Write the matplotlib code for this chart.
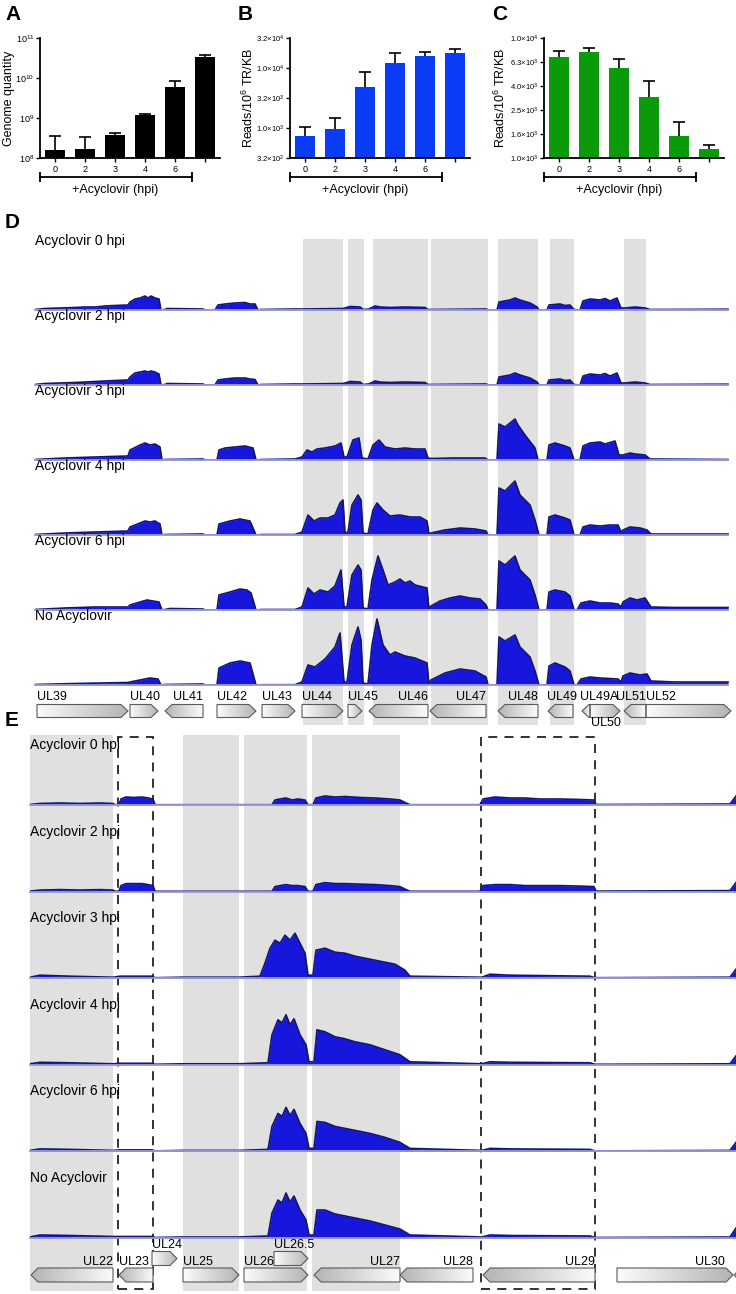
import numpy as np
import matplotlib.pyplot as plt
from matplotlib.patches import Polygon, Rectangle
from matplotlib.colors import LinearSegmentedColormap
import matplotlib.transforms as mtransforms

plt.rcParams['font.family'] = ['Liberation Sans', 'DejaVu Sans']
plt.rcParams['mathtext.fontset'] = 'custom'
plt.rcParams['mathtext.rm'] = 'Liberation Sans'
plt.rcParams['mathtext.it'] = 'Liberation Sans:italic'
plt.rcParams['mathtext.bf'] = 'Liberation Sans:bold'

# ---- panels A-C: bar data ----
hpi_labels = ['0', '2', '3', '4', '6', '']
genome_qty = [1.55e8, 1.7e8, 3.8e8, 1.2e9, 5.9e9, 3.3e10]
genome_err = [2.1e8, 1.6e8, 0.3e8, 0.05e9, 2.4e9, 0.5e10]
reads_b = [745, 975, 4820, 11960, 15640, 17800]
reads_b_err = [295, 495, 3650, 5840, 3060, 3200]
reads_c = [6990, 7600, 5590, 3200, 1516, 1196]
reads_c_err = [750, 650, 1140, 1150, 464, 80]

ticks_a = [1e8, 1e9, 1e10, 1e11]
ticklabels_a = ['$10^{8}$', '$10^{9}$', '$10^{10}$', '$10^{11}$']
ticks_b = [10**2.5, 1e3, 10**3.5, 1e4, 10**4.5]
ticklabels_b = [r'$3.2{\times}10^{2}$', r'$1.0{\times}10^{3}$', r'$3.2{\times}10^{3}$',
                r'$1.0{\times}10^{4}$', r'$3.2{\times}10^{4}$']
ticks_c = [1000, 1585, 2512, 3981, 6310, 10000]
ticklabels_c = [r'$1.0{\times}10^{3}$', r'$1.6{\times}10^{3}$', r'$2.5{\times}10^{3}$',
                r'$4.0{\times}10^{3}$', r'$6.3{\times}10^{3}$', r'$1.0{\times}10^{4}$']

# ---- panel D: coverage (position kb, relative depth) ----
track_labels_d = ['Acyclovir 0 hpi', 'Acyclovir 2 hpi', 'Acyclovir 3 hpi',
                  'Acyclovir 4 hpi', 'Acyclovir 6 hpi', 'No Acyclovir']
d_0hpi = [(0, 0.5), (1, 1.5), (2.5, 2), (4, 2.5), (5, 3), (6, 3), (7, 4), (8, 4.5), (9.3, 5),
          (9.5, 8), (10, 11), (10.5, 12), (11, 14), (11.3, 12), (11.6, 14), (12, 12), (12.4, 11), (12.6, 0),
          (13, 0.5), (13.2, 1.5), (16.8, 1), (17, 0),
          (18, 0), (18.3, 5), (19, 6), (20, 7), (21, 7.5), (21.5, 6), (22, 6), (22.3, 0),
          (22.6, 0.5), (26, 1), (26.8, 1), (30.8, 1.5), (31, 2), (31.5, 3.5), (32.5, 3), (32.8, 0.5),
          (33.4, 1), (34, 4), (34.5, 3), (35.5, 2.5), (37, 3), (39, 2.5), (39.3, 0.5),
          (39.5, 0.5), (45.1, 1), (45.4, 0),
          (46.2, 0), (46.4, 8), (47.5, 10), (48, 12), (48.5, 10), (49.5, 7), (50.2, 3), (50.4, 0),
          (51.2, 0), (51.4, 5), (52.5, 6), (53, 4.5), (53.5, 5), (53.9, 0.5),
          (54.5, 0), (54.8, 9), (55.5, 11), (56.5, 10), (57, 11.5), (57.5, 9), (58.2, 12), (58.6, 2),
          (59, 2), (60, 3), (61, 2), (61.5, 0.5), (69.3, 0.8)]
d_2hpi = [(0, 0.5), (1, 1.5), (2.5, 2), (4, 2.5), (5, 3), (6, 3.5), (7, 4), (8, 4.5), (9.3, 5),
          (9.5, 8), (10, 12), (10.5, 13), (11, 14), (11.3, 13), (11.6, 14), (12, 13), (12.4, 11), (12.6, 0),
          (13, 0.5), (13.2, 1.5), (16.8, 1), (17, 0),
          (18, 0), (18.3, 5), (19, 6), (20, 7), (21, 7), (21.5, 6), (22, 5.5), (22.3, 0),
          (22.6, 0.5), (26, 1), (26.8, 1), (30.8, 1.5), (31, 2), (31.5, 3.5), (32.5, 3), (32.8, 0.5),
          (33.4, 1), (34, 4), (34.5, 3), (35.5, 2.5), (37, 3), (39, 2.5), (39.3, 0.5),
          (39.5, 0.5), (45.1, 1), (45.4, 0),
          (46.2, 0), (46.4, 8), (47.5, 10), (48, 12), (48.5, 10), (49.5, 7), (50.2, 3), (50.4, 0),
          (51.2, 0), (51.4, 5), (52.5, 6), (53, 4.5), (53.5, 5), (53.9, 0.5),
          (54.5, 0), (54.8, 9), (55.5, 11), (56.5, 10), (57, 11.5), (57.5, 9), (58.2, 12), (58.6, 2),
          (59, 2), (60, 3), (61, 2), (61.5, 0.5), (69.3, 0.8)]
d_3hpi = [(0, 0.5), (3, 2), (6, 3), (9.3, 4),
          (9.5, 10), (10.5, 15), (11, 17), (11.5, 15), (12, 16), (12.5, 13), (12.7, 0),
          (13, 0.5), (16.8, 1), (17, 0),
          (18.2, 0), (18.4, 10), (19, 12), (20, 13), (21, 14), (21.8, 12), (22.1, 0),
          (22.7, 0.5), (26, 1),
          (26.7, 3), (27.2, 10), (27.7, 8), (28.2, 11), (29, 12), (30, 14), (30.6, 17), (30.9, 3),
          (31.2, 3), (31.8, 20), (32.4, 22), (32.7, 2),
          (33.3, 1), (33.8, 15), (34.4, 20), (35, 13), (36, 11), (37, 12), (38, 11), (39, 11), (39.3, 2),
          (39.6, 1.5), (42, 2), (45, 2), (45.3, 0),
          (46.2, 0), (46.4, 36), (47, 33), (48, 41), (48.3, 35), (49, 25), (50, 12), (50.3, 0),
          (51.2, 0), (51.4, 15), (52, 17), (53, 14), (53.5, 12), (53.9, 0),
          (54.5, 0), (54.8, 14), (55.5, 17), (56.5, 18), (57, 16), (58, 19), (58.4, 5),
          (58.8, 5), (59.5, 7), (60, 6), (61, 5), (61.5, 1), (69.3, 0.5)]
d_4hpi = [(0, 0.5), (3, 2), (6, 3), (9.3, 4),
          (9.5, 8), (10.5, 12), (11, 14), (11.5, 13), (12, 14), (12.5, 11), (12.7, 0),
          (13, 0.5), (16.8, 1), (17, 0),
          (18.2, 0), (18.4, 11), (19.5, 14), (20.5, 16), (21.5, 14), (22.1, 0),
          (22.7, 0.5), (26, 0.5),
          (26.7, 3), (27.3, 20), (27.9, 14), (28.5, 17), (29.3, 17), (30, 20), (30.5, 32), (30.8, 35), (31, 2),
          (31.3, 3), (31.7, 30), (32.3, 40), (32.6, 35), (32.8, 2),
          (33.3, 1), (33.8, 25), (34.2, 32), (34.8, 25), (35.5, 19), (36.5, 20), (37.5, 18), (38.5, 18),
          (39.2, 14), (39.4, 1),
          (39.6, 2), (41, 5), (42.5, 7), (44, 6), (45.1, 4), (45.3, 0),
          (46.2, 0), (46.4, 47), (47, 44), (48, 54), (48.5, 40), (49.5, 30), (50, 15), (50.4, 0),
          (51.2, 0), (51.4, 18), (52, 20), (53, 17), (53.5, 15), (53.9, 0),
          (54.5, 0), (54.8, 8), (55.5, 10), (56.5, 9), (57.5, 10), (58.3, 10), (58.6, 3),
          (58.8, 5), (59.5, 8), (60.5, 7), (61.2, 5), (61.6, 1), (69.3, 1)]
d_6hpi = [(0, 0.5), (3, 2), (6, 3), (9.3, 3),
          (9.5, 5), (10.5, 8), (11.2, 10), (11.8, 9), (12.4, 8), (12.7, 0),
          (13, 0.5), (13.5, 1.5), (16.8, 1), (17, 0),
          (18.2, 0), (18.4, 15), (19.5, 18), (20.5, 21), (21.2, 20), (21.6, 17), (22.1, 0),
          (22.7, 0.5), (26, 0.5),
          (26.7, 3), (27.3, 22), (27.9, 16), (28.5, 20), (29.3, 18), (30, 24), (30.6, 40), (30.9, 3),
          (31.2, 3), (31.7, 35), (32.3, 45), (32.6, 40), (32.8, 2),
          (33.3, 1), (33.7, 30), (34.3, 54), (34.8, 40), (35.3, 25), (36, 28), (36.5, 31), (37, 27),
          (37.5, 29), (38, 25), (39.2, 22), (39.4, 1),
          (39.6, 4), (40.5, 9), (41.5, 12), (42.5, 14), (43.5, 12), (44.5, 11), (45.1, 5), (45.3, 0),
          (46.2, 0), (46.4, 49), (47, 45), (48, 54), (48.5, 40), (49.5, 30), (50, 15), (50.4, 0),
          (51.2, 0), (51.4, 18), (52, 20), (53, 18), (53.5, 14), (53.9, 0),
          (54.2, 0), (54.6, 7), (55.5, 9), (56.5, 7), (57.5, 7), (58.3, 6), (58.6, 3),
          (58.8, 8), (59.5, 12), (60.2, 10), (61, 12), (61.6, 3), (64, 2.5), (69.3, 2.5)]
d_noacv = [(0, 0.5), (4, 1.5), (9.3, 2.5),
           (9.5, 3), (10.5, 5), (11.5, 7), (12.3, 6), (12.6, 0),
           (13, 0.5), (16.8, 1), (17, 0),
           (18.2, 0), (18.4, 17), (19.5, 22), (20.5, 24), (21.5, 22), (22.1, 0),
           (22.7, 0.3), (26, 0.3),
           (26.7, 3), (27.3, 20), (28, 18), (29, 26), (30, 38), (30.5, 52), (30.9, 3),
           (31.2, 3), (31.7, 40), (32.3, 58), (32.6, 45), (32.8, 2),
           (33.3, 1), (33.7, 40), (34.2, 66), (34.8, 40), (35.5, 30), (36, 33), (37, 29), (38, 27),
           (39.2, 22), (39.4, 1),
           (39.6, 5), (41, 12), (42.5, 16), (44, 14), (45.1, 8), (45.3, 0),
           (46.2, 0), (46.4, 48), (47, 44), (48, 50), (48.5, 38), (49.5, 28), (50, 14), (50.4, 0),
           (51.2, 0), (51.4, 19), (52, 22), (53, 18), (53.5, 14), (53.9, 0),
           (54.2, 0), (54.6, 6), (55.5, 8), (56.5, 7), (58.3, 6), (58.6, 3),
           (58.8, 9), (59.5, 12), (60.5, 10), (61.2, 11), (61.6, 4), (64, 3), (69.3, 3)]
profiles_d = [d_0hpi, d_2hpi, d_3hpi, d_4hpi, d_6hpi, d_noacv]

# genes: name, start, end, strand
genes_d = [('UL39', 0.2, 9.3, 1), ('UL40', 9.5, 12.3, 1), ('UL41', 13.0, 16.8, -1),
           ('UL42', 18.2, 22.1, 1), ('UL43', 22.7, 26.0, 1), ('UL44', 26.7, 30.8, 1),
           ('UL45', 31.3, 32.7, 1), ('UL46', 33.4, 39.3, -1), ('UL47', 39.5, 45.1, -1),
           ('UL48', 46.3, 50.3, -1), ('UL49', 51.3, 53.8, -1), ('UL49A', 54.7, 55.5, -1),
           ('UL50', 55.5, 58.5, 1), ('UL51', 58.9, 61.1, -1), ('UL52', 61.1, 69.6, 1)]
bands_d = [(26.8, 30.8), (31.3, 32.9), (33.8, 39.3), (39.6, 45.3), (46.3, 50.3), (51.5, 53.9), (58.9, 61.1)]

# ---- panel E ----
track_labels_e = track_labels_d
e_0hpi = [(0, 0.5), (1, 1.5), (3, 2), (5, 1.5), (7, 2), (8.3, 1.5), (8.5, 0.3),
          (8.9, 0.5), (9.1, 6), (9.6, 8), (10.4, 7.5), (11.2, 8), (11.8, 7), (12.3, 6), (12.5, 0.3),
          (24.2, 0.3), (24.5, 5), (25, 6), (25.6, 7), (26.2, 5), (26.8, 6), (27.5, 5), (27.8, 0.3),
          (28.3, 0.3), (28.6, 7), (29.5, 9), (30.5, 8), (31.5, 8.5), (33, 7.5), (34.5, 7), (36, 6),
          (37, 5), (37.6, 2), (38, 0.3),
          (45, 0.3), (45.3, 6), (46.5, 8), (48, 7), (49.5, 7), (51, 6), (53, 6), (55, 5.5), (56.4, 5),
          (56.6, 0.5), (65, 0.8), (70, 1), (70.6, 9)]
e_2hpi = [(0, 0.5), (1, 1.5), (3, 2), (5, 1.5), (7, 2), (8.3, 1.5), (8.5, 0.3),
          (8.9, 0.5), (9.1, 6), (9.6, 8), (10.4, 8), (11.2, 8), (11.8, 7), (12.3, 6), (12.5, 0.3),
          (24.2, 0.3), (24.5, 5), (25, 6), (25.6, 7), (26.2, 6), (26.8, 6), (27.5, 5), (27.8, 0.3),
          (28.3, 0.3), (28.6, 7), (29.5, 9), (30.5, 8), (31.5, 8), (33, 7.5), (34.5, 7), (36, 6),
          (37, 5), (37.6, 2), (38, 0.3),
          (45, 0.3), (45.3, 6), (46.5, 7), (48, 7), (49.5, 6), (51, 6), (53, 6), (55, 5.5), (56.4, 5),
          (56.6, 0.5), (65, 0.8), (70, 1), (70.6, 9)]
e_3hpi = [(0, 1), (1, 3), (4, 2), (8.3, 1), (9, 2), (12.2, 2), (12.5, 0.5),
          (15.3, 1), (20.9, 1), (23, 2),
          (23.5, 15), (24, 30), (24.5, 38), (25, 35), (25.5, 43), (26, 38), (26.5, 45), (27, 35),
          (27.5, 25), (27.8, 3),
          (28.3, 3), (28.6, 28), (29.5, 30), (30.5, 26), (31.5, 25), (32.5, 22), (33.5, 20), (34.5, 18),
          (35.5, 16), (36.5, 14), (37.5, 8), (38, 2),
          (45.2, 1), (46, 4), (48, 3), (56, 2), (56.5, 0.5), (70, 1), (70.6, 9)]
e_4hpi = [(0, 1), (1, 2.5), (4, 2), (8.3, 1), (9, 1.5), (12.2, 1.5), (12.5, 0.5),
          (15.3, 1), (20.9, 1), (23.8, 2),
          (24.2, 30), (24.8, 45), (25.2, 42), (25.6, 50), (26, 40), (26.4, 46), (27, 30), (27.6, 20),
          (27.9, 3),
          (28.4, 3), (28.7, 35), (29.5, 33), (30.5, 28), (31.5, 26), (32.5, 23), (34, 20), (35.5, 15),
          (37, 10), (38, 3),
          (45.2, 1), (46, 3), (48, 2.5), (56, 2), (56.5, 0.5), (70, 1), (70.6, 9)]
e_6hpi = [(0, 1), (1, 2.5), (4, 2), (8.3, 1), (9, 1.5), (12.2, 1.5), (12.5, 0.5),
          (15.3, 1), (20.9, 1), (23.8, 2),
          (24.2, 25), (24.8, 38), (25.2, 35), (25.6, 44), (26, 36), (26.4, 42), (27, 28), (27.6, 18),
          (27.9, 3),
          (28.4, 3), (28.7, 30), (29.5, 29), (30.5, 25), (31.5, 23), (32.5, 21), (34, 18), (35.5, 14),
          (37, 9), (38, 3),
          (45.2, 1), (46, 3), (48, 2.5), (56, 2), (56.5, 0.5), (70, 1), (70.6, 9)]
e_noacv = [(0, 1), (1, 3), (4, 2.5), (8.3, 1.5), (9, 1.5), (12.2, 1.5), (12.5, 0.5),
           (15.3, 1), (20.9, 1), (23.8, 2),
           (24.2, 25), (24.8, 38), (25.2, 35), (25.6, 45), (26, 36), (26.4, 42), (27, 28), (27.6, 18),
           (27.9, 3),
           (28.4, 3), (28.7, 28), (29.5, 28), (30.5, 24), (31.5, 22), (32.5, 20), (34, 17), (35.5, 13),
           (37, 9), (38, 3),
           (45.2, 1), (46, 3), (48, 2.5), (56, 2), (56.5, 0.5), (70, 1), (70.6, 10)]
profiles_e = [e_0hpi, e_2hpi, e_3hpi, e_4hpi, e_6hpi, e_noacv]

genes_e = [('UL22', 0.1, 8.3, -1), ('UL23', 8.9, 12.3, -1), ('UL24', 12.2, 14.7, 1),
           ('UL25', 15.3, 20.9, 1), ('UL26', 21.4, 27.8, 1), ('UL26.5', 24.4, 27.8, 1),
           ('UL27', 28.4, 37.0, -1), ('UL28', 37.0, 44.3, -1), ('UL29', 45.3, 56.5, -1),
           ('UL30', 58.7, 70.3, 1), ('', 70.4, 72.0, -1)]
upper_row_e = ['UL24', 'UL26.5']
bands_e = [(0, 8.3), (15.3, 20.9), (21.4, 27.7), (28.2, 37.0)]
dashed_e = [(8.8, 12.3), (45.1, 56.5)]

W, H = 736, 1294
fig = plt.figure(figsize=(W / 100, H / 100), dpi=100)


def px_axes(left, top, right, bottom, **kw):
    return fig.add_axes([left / W, 1 - bottom / H, (right - left) / W, (bottom - top) / H], **kw)


def ftext(x, y, s, **kw):
    fig.text(x / W, 1 - y / H, s, **kw)


def bar_panel(box, vals, errs, color, ticks, ticklabels, ylabel, ylabel_x):
    ax = px_axes(*box)
    x = np.arange(len(vals))
    ax.set_yscale('log')
    ax.bar(x, vals, width=0.67, color=color, zorder=2)
    eb = ax.errorbar(x, vals, yerr=[np.zeros(len(vals)), errs], fmt='none', ecolor='black',
                     elinewidth=1.2, capsize=4, capthick=1.2, zorder=3)
    eb[1][0].set_visible(False)
    ax.set_ylim(ticks[0], ticks[-1])
    ax.set_xlim(-0.5, 5.5)
    ax.set_yticks(ticks)
    ax.set_yticklabels(ticklabels)
    ax.minorticks_off()
    ax.set_xticks(x)
    ax.set_xticklabels(hpi_labels)
    for s in ['top', 'right']:
        ax.spines[s].set_visible(False)
    for s in ['left', 'bottom']:
        ax.spines[s].set_linewidth(1.3)
    ax.tick_params(axis='y', labelsize=5.5, length=3, width=1, pad=1)
    ax.tick_params(axis='x', labelsize=6.5, length=3, width=1, pad=2)
    trans = mtransforms.blended_transform_factory(ax.transData, ax.transAxes)
    ax.plot([-0.5, 4.55], [-0.16, -0.16], color='black', lw=1.3, marker='|', markersize=7,
            mew=1.3, transform=trans, clip_on=False)
    ax.text(2.02, -0.27, '+Acyclovir (hpi)', transform=trans, ha='center', va='center', fontsize=9)
    ftext(ylabel_x, 98, ylabel, rotation=90, ha='center', va='center', fontsize=9)
    return ax


bar_panel((40, 38, 220, 158), genome_qty, genome_err, 'black', ticks_a, ticklabels_a,
          'Genome quantity', 9)
bar_panel((290, 38, 470, 158), reads_b, reads_b_err, '#0b3cf5', ticks_b, ticklabels_b,
          'Reads/10$^{6}$ TR/KB', 248)
bar_panel((544, 38, 724, 158), reads_c, reads_c_err, '#0a9a0a', ticks_c, ticklabels_c,
          'Reads/10$^{6}$ TR/KB', 500)
axa = fig.axes[0]
axa.tick_params(axis='y', labelsize=6.5)

for letter, x, y in [('A', 5, 15), ('B', 238, 15), ('C', 492, 15), ('D', 5, 223), ('E', 5, 720)]:
    ftext(x, y, letter, fontsize=15, fontweight='bold', ha='left', va='center')

gene_cmap_r = LinearSegmentedColormap.from_list('g', ['#fbfbfb', '#b4b4b4'])
FILL = '#1616dc'
EDGE = '#17175e'
BASE = '#9a9ae0'


def draw_gene(ax, name, start, end, strand, yc, h, tip, label_y, label_side=None, label_x=None):
    if strand == 1:
        verts = [(start, yc - h / 2), (end - tip, yc - h / 2), (end, yc),
                 (end - tip, yc + h / 2), (start, yc + h / 2)]
        grad = np.linspace(0, 1, 64).reshape(1, -1)
    else:
        verts = [(end, yc - h / 2), (start + tip, yc - h / 2), (start, yc),
                 (start + tip, yc + h / 2), (end, yc + h / 2)]
        grad = np.linspace(1, 0, 64).reshape(1, -1)
    poly = Polygon(verts, closed=True, facecolor='none', edgecolor='#5a5a5a', lw=0.8, zorder=3)
    ax.add_patch(poly)
    im = ax.imshow(grad, extent=(start, end, yc - h / 2, yc + h / 2), cmap=gene_cmap_r,
                   aspect='auto', zorder=2, interpolation='bilinear')
    im.set_clip_path(poly)
    if name:
        side = label_side or ('left' if strand == 1 else 'right')
        xpos = label_x if label_x is not None else (start if side == 'left' else end)
        ax.text(xpos, label_y, name, ha=side, va='center', fontsize=9, zorder=4)


def coverage_panel(left, right, xmax, base0, step, label_dy, labels, profiles, band_top, band_bot,
                   bands, dashed, gbox, genes, upper_row, label_opts):
    bg = px_axes(left, band_top, right, band_bot)
    bg.set_xlim(0, xmax)
    bg.set_ylim(0, 1)
    bg.axis('off')
    for a, b in bands:
        bg.axvspan(a, b, color='#e0e0e0', lw=0)
    for a, b in dashed:
        bg.add_patch(Rectangle((a, 0.003), b - a, 0.994, fill=False, ec='#222222', lw=1.3,
                               ls=(0, (5, 4)), zorder=5))
    for i, (lab, prof) in enumerate(zip(labels, profiles)):
        base = base0 + i * step
        ax = px_axes(left, base - step, right, base)
        ax.patch.set_alpha(0)
        x, h = np.array(prof).T
        ax.fill_between(x, 0, h, color=FILL, lw=0)
        ax.plot(x, h, color=EDGE, lw=1.2, solid_joinstyle='round')
        ax.plot([x[0], x[-1]], [0, 0], color=BASE, lw=1.3, clip_on=False)
        ax.set_xlim(0, xmax)
        ax.set_ylim(0, step)
        ax.axis('off')
        ax.text(0, label_dy / step, lab, transform=ax.transAxes, ha='left', va='center',
                fontsize=10)
    top, bot, yc, h, yc_up, y_up_lab, y_low_lab, y_lab = gbox
    gx = px_axes(left, top, right, bot)
    gx.patch.set_alpha(0)
    for name, a, b, s in genes:
        opts = label_opts.get(name, {})
        if name in upper_row:
            draw_gene(gx, name, a, b, s, yc_up, h, 0.7, y_up_lab, **opts)
        elif name == 'UL50':
            draw_gene(gx, name, a, b, s, yc, h, 0.7, y_low_lab, **opts)
        else:
            draw_gene(gx, name, a, b, s, yc, h, 0.7, y_lab, **opts)
    gx.set_xlim(0, xmax)
    gx.set_ylim(bot - top, 0)
    gx.axis('off')


coverage_panel(35, 735, 70, 310, 75, 69, track_labels_d, profiles_d, 239, 725,
               bands_d, [], (688, 730, 23, 13, 0, 0, 35, 9), genes_d, [],
               {'UL49': {'label_side': 'left', 'label_x': 51.2},
                'UL49A': {'label_side': 'left', 'label_x': 54.5},
                'UL50': {'label_side': 'left', 'label_x': 55.6}})
coverage_panel(30, 736, 70.6, 805, 86.6, 60, track_labels_e, profiles_e, 735, 1291,
               bands_e, dashed_e, (1238, 1294, 37, 14, 20.5, 7, 0, 24), genes_e, upper_row_e,
               {'UL23': {'label_side': 'left'}, 'UL30': {'label_side': 'right', 'label_x': 69.5}})

fig.savefig('out.png', dpi=100)
